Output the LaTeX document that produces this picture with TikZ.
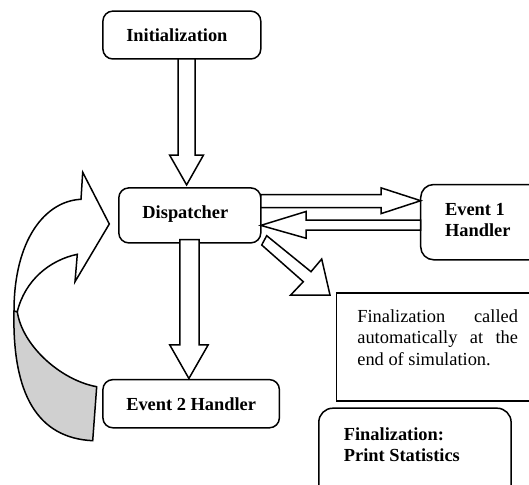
\documentclass[tikz,border=0pt]{standalone}
\usepackage{fontspec}
\setmainfont{Liberation Serif}
\definecolor{ribbon}{RGB}{208,208,208}
\begin{document}
\begin{tikzpicture}[x=1pt,y=-1pt, line width=1.5pt, line join=miter,
  box/.style={draw, rounded corners=10pt, fill=white, inner sep=0pt},
  lbl/.style={anchor=base west, inner sep=0pt, font=\fontsize{18.4}{21.5}\selectfont\bfseries, align=left},
  txt/.style={anchor=base west, inner sep=0pt, font=\fontsize{18.4}{21.6}\selectfont, align=left},
  blk/.style={draw, fill=white}]
\useasboundingbox (0,0) rectangle (529,484);
\clip (0,0) rectangle (529,484);

% boxes
\node[box, minimum width=157.9pt, minimum height=47.9pt] (init) at (181.85,35.05) {};
\node[box, minimum width=142pt, minimum height=55pt] (disp) at (189.8,215.4) {};
\node[box, rounded corners=13pt, minimum width=139.3pt, minimum height=75.3pt] (ev1) at (490.35,222.15) {};
\node[box, minimum width=176.5pt, minimum height=48.2pt] (ev2) at (191.15,403.7) {};
\node[draw, fill=white, inner sep=0pt, minimum width=223.6pt, minimum height=108pt] (note) at (448.2,346.8) {};
\node[box, rounded corners=14pt, minimum width=192.3pt, minimum height=101.8pt] (fin) at (414.95,459.1) {};

% texts (base anchor = baseline of the last line)
\node[lbl] (initT) at (125.5,41.5) {Initialization};
\node[lbl] (dispT) at (141.7,218.6) {Dispatcher};
\node[lbl] (ev1T) at (444.3,236.8) {Event 1\\Handler};
\node[lbl] (ev2T) at (125.5,410.9) {Event 2 Handler};
\node[lbl] (finT) at (343.1,461.5) {Finalization:\\Print Statistics};
\node[txt] (noteT) at (356.6,365.4) {\makebox[160.6pt][l]{Finalization\hfill called}\\\makebox[160.6pt][l]{automatically\hfill at\hfill the}\\end of simulation.};

% block arrows
\draw[blk] (178.1,59) -- (195,59) -- (195,155.2) -- (203.4,155.2) -- (186.6,184.9) -- (169.7,155.2) -- (178.1,155.2) -- cycle;
\draw[blk] (179.8,239.5) -- (199.1,239.5) -- (199.1,344.8) -- (208.2,344.8) -- (188.9,378.5) -- (169.7,344.8) -- (179.8,344.8) -- cycle;
\draw[blk] (260.8,194.7) -- (381.2,194.7) -- (381.2,187.9) -- (420.7,200.7) -- (381.2,213.6) -- (381.2,207.5) -- (260.8,207.5) -- cycle;
\draw[blk] (420.7,220) -- (306,220) -- (306,211.5) -- (260.8,225.4) -- (306,238.2) -- (306,230.1) -- (420.7,230.1) -- cycle;
\draw[blk] (266.7,235.7) -- (311,271.7) -- (321.7,259) -- (330,295) -- (290.7,295) -- (303.3,281.7) -- (261.7,245) -- cycle;

% curved loop arrow
\filldraw[fill=ribbon] (14,311) .. controls (12,395) and (38,438) .. (92.7,440.7)
  -- (96.7,386.7) .. controls (60,380) and (22,345) .. (17.3,311.7) -- cycle;
\filldraw[fill=white] (14,311) .. controls (14,240) and (45,201) .. (81,199.3)
  -- (82.7,172.3) -- (109.3,224) -- (75,281.7) -- (77.3,254.3)
  .. controls (50,260) and (25,280) .. (17.3,311.7) -- cycle;
\end{tikzpicture}
\end{document}
